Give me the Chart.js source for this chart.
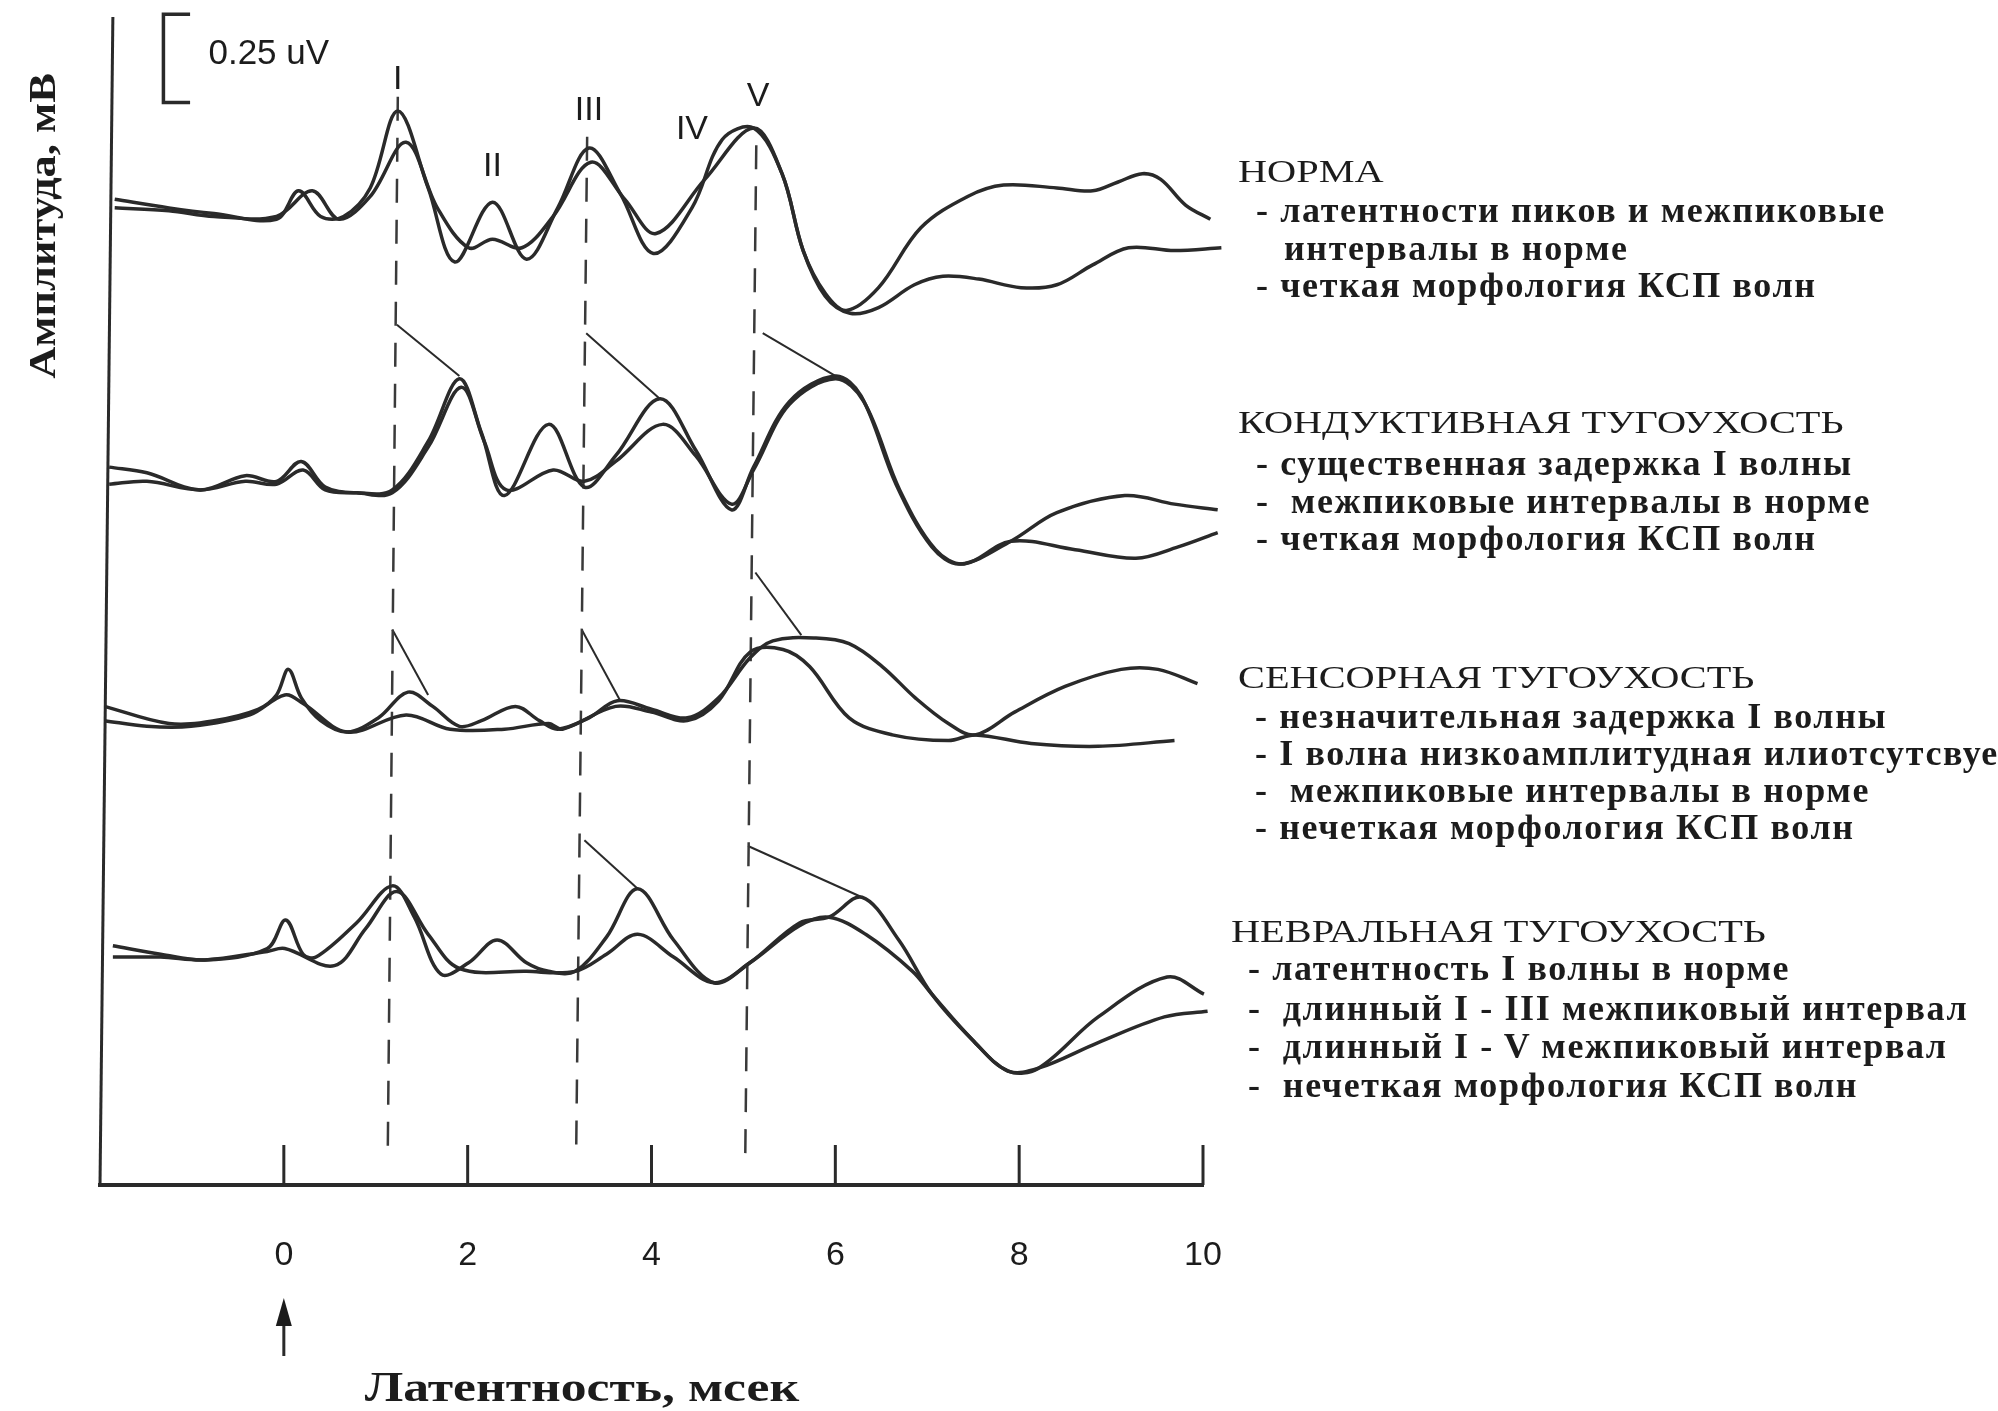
<!DOCTYPE html>
<html>
<head>
<meta charset="utf-8">
<script src="https://cdn.jsdelivr.net/npm/chart.js@4.4.1/dist/chart.umd.min.js"></script>
<style>
  html, body { margin: 0; padding: 0; background: #fff; overflow: hidden; }
  #wrap { position: relative; width: 1998px; height: 1411px; }
  canvas { position: absolute; left: 0; top: 0; }
  .title, .item { position: absolute; white-space: pre; color: #1c1c1c; font-family: "Liberation Serif", "DejaVu Serif", serif; }
  .title { font-size: 32px; line-height: 32px; transform: scaleX(1.26); transform-origin: left center; }
  .item { font-size: 36px; line-height: 36px; font-weight: bold; letter-spacing: 1.6px; }
</style>
</head>
<body>
<div id="wrap">
  <canvas id="abr" width="1998" height="1411"></canvas>

  <div class="title" style="left:1238px; top:155px">НОРМА</div>
  <div class="item" style="left:1256px; top:192px">- латентности пиков и межпиковые</div>
  <div class="item" style="left:1284px; top:230px">интервалы в норме</div>
  <div class="item" style="left:1256px; top:267px">- четкая морфология КСП волн</div>

  <div class="title" style="left:1238px; top:406px">КОНДУКТИВНАЯ ТУГОУХОСТЬ</div>
  <div class="item" style="left:1256px; top:445px">- существенная задержка I волны</div>
  <div class="item" style="left:1256px; top:483px">-  межпиковые интервалы в норме</div>
  <div class="item" style="left:1256px; top:520px">- четкая морфология КСП волн</div>

  <div class="title" style="left:1238px; top:661px">СЕНСОРНАЯ ТУГОУХОСТЬ</div>
  <div class="item" style="left:1255px; top:698px">- незначительная задержка I волны</div>
  <div class="item" style="left:1255px; top:735px">- I волна низкоамплитудная илиотсутсвует</div>
  <div class="item" style="left:1255px; top:772px">-  межпиковые интервалы в норме</div>
  <div class="item" style="left:1255px; top:809px">- нечеткая морфология КСП волн</div>

  <div class="title" style="left:1231px; top:915px">НЕВРАЛЬНАЯ ТУГОУХОСТЬ</div>
  <div class="item" style="left:1248px; top:950px">- латентность I волны в норме</div>
  <div class="item" style="left:1248px; top:990px">-  длинный I - III межпиковый интервал</div>
  <div class="item" style="left:1248px; top:1028px">-  длинный I - V межпиковый интервал</div>
  <div class="item" style="left:1248px; top:1067px">-  нечеткая морфология КСП волн</div>
</div>

<script>
// latency, ms (t) and stacked amplitude (v) for each recorded trace
const normaA_t = [-1.84, -1.25, -0.76, -0.08, 0.16, 0.40, 0.65, 0.94, 1.24, 1.57, 1.86, 2.27, 2.64, 2.98, 3.32, 3.66, 4.02, 4.44, 4.77, 5.11, 5.42, 5.65, 5.89, 6.12, 6.47, 6.93, 7.44, 7.83, 8.41, 8.80, 9.07, 9.34, 9.54, 9.81, 10.08]
const normaA_v = [3.46, 3.43, 3.41, 3.39, 3.49, 3.40, 3.40, 3.50, 3.77, 3.50, 3.24, 3.45, 3.25, 3.43, 3.64, 3.48, 3.27, 3.43, 3.67, 3.71, 3.55, 3.28, 3.13, 3.07, 3.15, 3.36, 3.47, 3.51, 3.50, 3.49, 3.52, 3.55, 3.53, 3.44, 3.39]
const normaB_t = [-1.84, -1.25, -0.76, -0.08, 0.31, 0.60, 0.94, 1.33, 1.67, 2.01, 2.27, 2.59, 2.93, 3.34, 3.71, 4.05, 4.58, 5.11, 5.42, 5.65, 5.89, 6.16, 6.47, 6.86, 7.17, 7.56, 8.02, 8.41, 8.80, 9.19, 9.69, 10.20]
const normaB_v = [3.43, 3.42, 3.40, 3.40, 3.49, 3.39, 3.47, 3.66, 3.43, 3.29, 3.32, 3.29, 3.40, 3.59, 3.46, 3.34, 3.53, 3.71, 3.55, 3.28, 3.12, 3.06, 3.08, 3.16, 3.19, 3.18, 3.15, 3.16, 3.23, 3.29, 3.28, 3.29]

const kondA_t = [-1.90, -1.49, -0.91, -0.42, -0.08, 0.19, 0.45, 0.79, 1.18, 1.57, 1.91, 2.15, 2.40, 2.88, 3.27, 3.61, 4.09, 4.48, 4.87, 5.11, 5.50, 6.00, 6.28, 6.66, 7.05, 7.36, 7.91, 8.41, 9.15, 9.69, 10.16]
const kondA_v = [2.52, 2.50, 2.44, 2.49, 2.47, 2.54, 2.45, 2.43, 2.44, 2.61, 2.83, 2.64, 2.42, 2.67, 2.45, 2.56, 2.76, 2.58, 2.37, 2.52, 2.75, 2.84, 2.77, 2.46, 2.24, 2.18, 2.26, 2.36, 2.42, 2.39, 2.37]
const kondB_t = [-1.90, -1.49, -0.91, -0.42, -0.08, 0.21, 0.45, 0.79, 1.18, 1.57, 1.93, 2.18, 2.42, 2.93, 3.27, 3.61, 4.12, 4.48, 4.87, 5.11, 5.50, 6.00, 6.31, 6.70, 7.09, 7.40, 7.91, 8.61, 9.27, 9.73, 10.16]
const kondB_v = [2.46, 2.47, 2.44, 2.47, 2.46, 2.51, 2.44, 2.43, 2.43, 2.59, 2.80, 2.61, 2.44, 2.51, 2.47, 2.54, 2.67, 2.56, 2.39, 2.51, 2.74, 2.83, 2.75, 2.44, 2.23, 2.18, 2.26, 2.23, 2.20, 2.24, 2.29]

const sensA_t = [-1.95, -1.25, -0.76, -0.28, -0.08, 0.05, 0.19, 0.40, 0.69, 1.03, 1.35, 1.62, 1.91, 2.15, 2.52, 2.78, 2.98, 3.32, 3.63, 4.00, 4.39, 4.73, 5.07, 5.32, 5.79, 6.15, 6.51, 6.87, 7.23, 7.52, 7.95, 8.50, 9.11, 9.51, 9.94]
const sensA_v = [1.68, 1.62, 1.63, 1.67, 1.72, 1.81, 1.71, 1.63, 1.59, 1.64, 1.73, 1.68, 1.61, 1.63, 1.68, 1.63, 1.60, 1.64, 1.70, 1.67, 1.64, 1.71, 1.85, 1.91, 1.92, 1.90, 1.82, 1.71, 1.62, 1.58, 1.66, 1.75, 1.81, 1.81, 1.76]
const sensB_t = [-1.95, -1.49, -1.01, -0.37, 0.01, 0.21, 0.69, 1.33, 1.81, 2.40, 2.88, 3.03, 3.61, 4.00, 4.39, 4.73, 5.07, 5.43, 5.72, 6.15, 6.62, 7.23, 7.52, 8.13, 8.86, 9.69]
const sensB_v = [1.63, 1.61, 1.61, 1.65, 1.72, 1.69, 1.59, 1.65, 1.60, 1.60, 1.62, 1.60, 1.68, 1.66, 1.63, 1.70, 1.87, 1.88, 1.82, 1.64, 1.58, 1.56, 1.58, 1.55, 1.54, 1.56]

const nevrA_t = [-1.86, -1.34, -0.86, -0.18, 0.02, 0.21, 0.35, 0.79, 1.18, 1.42, 1.71, 2.01, 2.32, 2.64, 2.88, 3.17, 3.51, 3.85, 4.24, 4.68, 5.07, 5.61, 5.93, 6.29, 6.69, 7.05, 7.49, 7.88, 8.21, 8.86, 9.61, 10.01]
const nevrA_v = [0.84, 0.81, 0.79, 0.83, 0.93, 0.81, 0.80, 0.92, 1.05, 0.94, 0.74, 0.78, 0.86, 0.78, 0.75, 0.75, 0.87, 1.04, 0.86, 0.71, 0.78, 0.92, 0.94, 1.01, 0.86, 0.67, 0.51, 0.40, 0.41, 0.59, 0.73, 0.67]
const nevrB_t = [-1.86, -1.34, -0.86, -0.18, 0.01, 0.55, 0.89, 1.23, 1.57, 1.91, 2.64, 3.17, 3.51, 3.85, 4.24, 4.68, 5.07, 5.61, 5.93, 6.33, 6.84, 7.05, 7.49, 7.88, 8.21, 8.86, 9.58, 10.05]
const nevrB_v = [0.80, 0.80, 0.79, 0.82, 0.83, 0.77, 0.90, 1.03, 0.88, 0.76, 0.75, 0.75, 0.81, 0.88, 0.80, 0.71, 0.78, 0.91, 0.94, 0.88, 0.75, 0.67, 0.51, 0.40, 0.41, 0.50, 0.59, 0.61]

// dashed reference latencies of waves I, III, V
const waveI_t = [1.24, 1.13], waveI_v = [3.82, 0.09]
const waveIII_t = [3.30, 3.18], waveIII_v = [3.68, 0.10]
const waveV_t = [5.14, 5.02], waveV_v = [3.65, 0.10]

// thin lines showing the shift of peaks
const shifts = [
  { t: [1.23, 1.91], v: [3.02, 2.84] },
  { t: [3.29, 4.09], v: [2.99, 2.76] },
  { t: [5.21, 6.00], v: [2.99, 2.84] },
  { t: [1.18, 1.57], v: [1.95, 1.72] },
  { t: [3.24, 3.66], v: [1.95, 1.70] },
  { t: [5.13, 5.63], v: [2.15, 1.93] },
  { t: [3.27, 3.85], v: [1.21, 1.04] },
  { t: [5.05, 6.29], v: [1.19, 1.01] }
]

// hand-drawn ordinate line (slightly leaning) and the 0.25 uV bracket
const yAxis_t = [-1.86, -2.0]
const yAxis_v = [4.1, 0]
const bar_t = [-1.02, -1.31, -1.31, -1.02]
const bar_v = [4.11, 4.11, 3.80, 3.80]

const waveLabels = ['I', 'II', 'III', 'IV', 'V']
const waveLabel_t = [1.24, 2.27, 3.32, 4.44, 5.16]
const waveLabel_v = [3.88, 3.575, 3.77, 3.705, 3.82]

const tickValues = [0, 2, 4, 6, 8, 10]

const INK = '#2a2a2a'
const SERIF = '"Liberation Serif", "DejaVu Serif", serif'
const SANS = '"Liberation Sans", Arial, sans-serif'

function trace(t, v, extra) {
  return Object.assign({
    data: t.map((x, i) => ({ x: x, y: v[i] })),
    borderColor: INK,
    borderWidth: 3.5,
    pointRadius: 0,
    tension: 0.35,
    fill: false,
    clip: false
  }, extra || {})
}

const datasets = [
  trace(normaA_t, normaA_v), trace(normaB_t, normaB_v),
  trace(kondA_t, kondA_v), trace(kondB_t, kondB_v),
  trace(sensA_t, sensA_v), trace(sensB_t, sensB_v),
  trace(nevrA_t, nevrA_v), trace(nevrB_t, nevrB_v)
]
;[[waveI_t, waveI_v], [waveIII_t, waveIII_v], [waveV_t, waveV_v]].forEach(([t, v]) => {
  datasets.push(trace(t, v, { borderWidth: 2.5, borderDash: [24, 17], tension: 0, borderColor: '#3a3a3a' }))
})
shifts.forEach(s => datasets.push(trace(s.t, s.v, { borderWidth: 2, tension: 0 })))
datasets.push(trace(bar_t, bar_v, { borderWidth: 3.5, tension: 0 }))
datasets.push(trace(yAxis_t, yAxis_v, { borderWidth: 3, tension: 0 }))

function stretched(ctx, text, cx, cy, rot, sx) {
  ctx.save()
  ctx.translate(cx, cy)
  ctx.rotate(rot)
  ctx.scale(sx, 1)
  ctx.fillText(text, 0, 0)
  ctx.restore()
}

const overlay = {
  id: 'overlay',
  afterDraw(chart) {
    const { ctx, scales: { x, y } } = chart
    ctx.save()
    ctx.strokeStyle = INK
    ctx.fillStyle = '#1c1c1c'

    // tick marks standing up from the axis
    ctx.lineWidth = 3
    tickValues.forEach(t => {
      const px = x.getPixelForValue(t)
      ctx.beginPath()
      ctx.moveTo(px, y.bottom)
      ctx.lineTo(px, y.bottom - 40)
      ctx.stroke()
    })

    // wave numbers
    ctx.font = '34px ' + SANS
    ctx.textAlign = 'center'
    ctx.textBaseline = 'middle'
    waveLabels.forEach((s, i) => {
      ctx.fillText(s, x.getPixelForValue(waveLabel_t[i]), y.getPixelForValue(waveLabel_v[i]))
    })

    // calibration text
    ctx.font = '35px ' + SANS
    ctx.textAlign = 'left'
    ctx.fillText('0.25 uV', x.getPixelForValue(-0.82), y.getPixelForValue(3.97))

    // stimulus arrow under 0
    const ax = x.getPixelForValue(0)
    ctx.lineWidth = 3
    ctx.beginPath()
    ctx.moveTo(ax, 1318)
    ctx.lineTo(ax, 1356)
    ctx.stroke()
    ctx.beginPath()
    ctx.moveTo(ax, 1298)
    ctx.lineTo(ax - 8, 1326)
    ctx.lineTo(ax + 8, 1326)
    ctx.closePath()
    ctx.fill()

    // axis titles
    ctx.textAlign = 'center'
    ctx.font = 'bold 37px ' + SERIF
    stretched(ctx, 'Амплитуда, мВ', 45, 226, -Math.PI / 2, 1.2)
    ctx.font = 'bold 43px ' + SERIF
    stretched(ctx, 'Латентность, мсек', 582, 1390, 0, 1.2)
    ctx.restore()
  }
}

new Chart(document.getElementById('abr'), {
  type: 'line',
  data: { datasets: datasets },
  options: {
    responsive: false,
    animation: false,
    devicePixelRatio: 1,
    layout: { padding: { top: 17, right: 795, left: 0, bottom: 0 } },
    plugins: { legend: { display: false }, tooltip: { enabled: false } },
    scales: {
      x: {
        type: 'linear',
        min: -2,
        max: 10,
        afterFit: scale => { scale.height = 226 },
        grid: { display: false, drawTicks: false },
        border: { display: true, color: INK, width: 4 },
        ticks: {
          stepSize: 2,
          autoSkip: false,
          maxRotation: 0,
          padding: 50,
          color: '#1c1c1c',
          font: { family: SANS, size: 34 },
          callback: v => (v < 0 ? '' : v)
        }
      },
      y: {
        type: 'linear',
        min: 0,
        max: 4.1,
        afterFit: scale => { scale.width = 100 },
        grid: { display: false, drawTicks: false },
        border: { display: false },
        ticks: { display: false }
      }
    }
  },
  plugins: [overlay]
})
</script>
</body>
</html>
